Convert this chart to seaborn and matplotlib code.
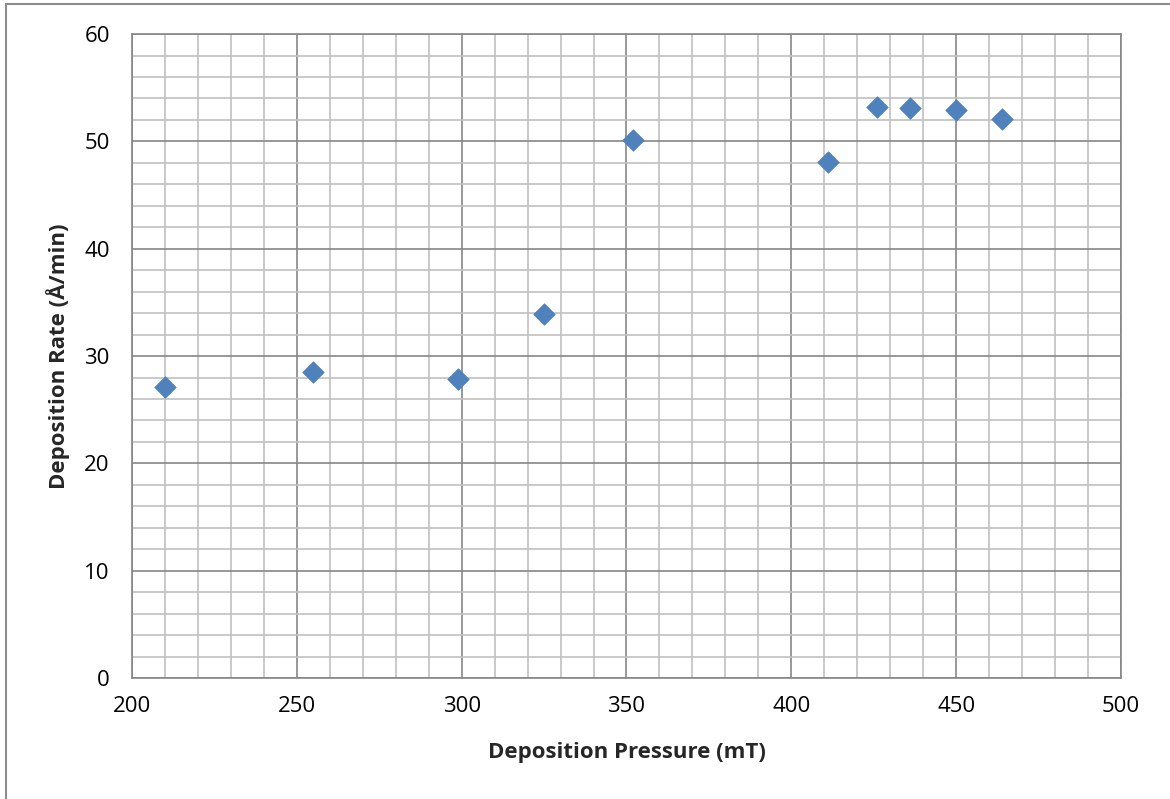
import numpy as np
import pandas as pd
import matplotlib
matplotlib.use("Agg")
import matplotlib.pyplot as plt
import seaborn as sns
from matplotlib.ticker import MultipleLocator
from matplotlib.lines import Line2D

# data
pressure = [210, 255, 299, 325, 352, 411, 426, 436, 450, 464]
rate = [27.1, 28.5, 27.9, 33.9, 50.1, 48.1, 53.2, 53.1, 52.9, 52.1]

df = pd.DataFrame({"pressure": pressure, "rate": rate})

sns.set_style("white")
plt.rcParams['font.family'] = ['Open Sans', 'DejaVu Sans']

fig = plt.figure(figsize=(11.7, 7.99), dpi=100)
ax = fig.add_axes([0.1128, 0.1514, 0.8453, 0.806])

sns.scatterplot(data=df, x="pressure", y="rate", marker="D", s=120,
                color="#4F81BD", edgecolor="#4A7EBB", linewidth=0.5,
                ax=ax, zorder=3)

ax.set_xlim(200, 500)
ax.set_ylim(0, 60)
ax.xaxis.set_major_locator(MultipleLocator(50))
ax.xaxis.set_minor_locator(MultipleLocator(10))
ax.yaxis.set_major_locator(MultipleLocator(10))
ax.yaxis.set_minor_locator(MultipleLocator(2))

ax.grid(which="major", color="#868686", linewidth=1.2, zorder=1)
ax.grid(which="minor", color="#C0C0C0", linewidth=1.2, zorder=0)
ax.set_axisbelow(True)
for sp in ax.spines.values():
    sp.set_color("#868686")
    sp.set_linewidth(1.2)

ax.tick_params(which="both", length=0, labelsize=16, colors="black")
ax.tick_params(axis="x", pad=13)
ax.tick_params(axis="y", pad=16)

ax.set_xlabel("Deposition Pressure (mT)", fontsize=16, fontweight="bold", labelpad=18)
ax.set_ylabel("Deposition Rate (Å/min)", fontsize=16, fontweight="bold", labelpad=10)

# outer chart border (top and left visible)
fig.add_artist(Line2D([0.005, 1.0], [0.9945, 0.9945], color="#8C8C8C", linewidth=1.5,
                      transform=fig.transFigure))
fig.add_artist(Line2D([0.0055, 0.0055], [0.0, 0.9945], color="#8C8C8C", linewidth=1.5,
                      transform=fig.transFigure))

fig.savefig("out.png", dpi=100)
